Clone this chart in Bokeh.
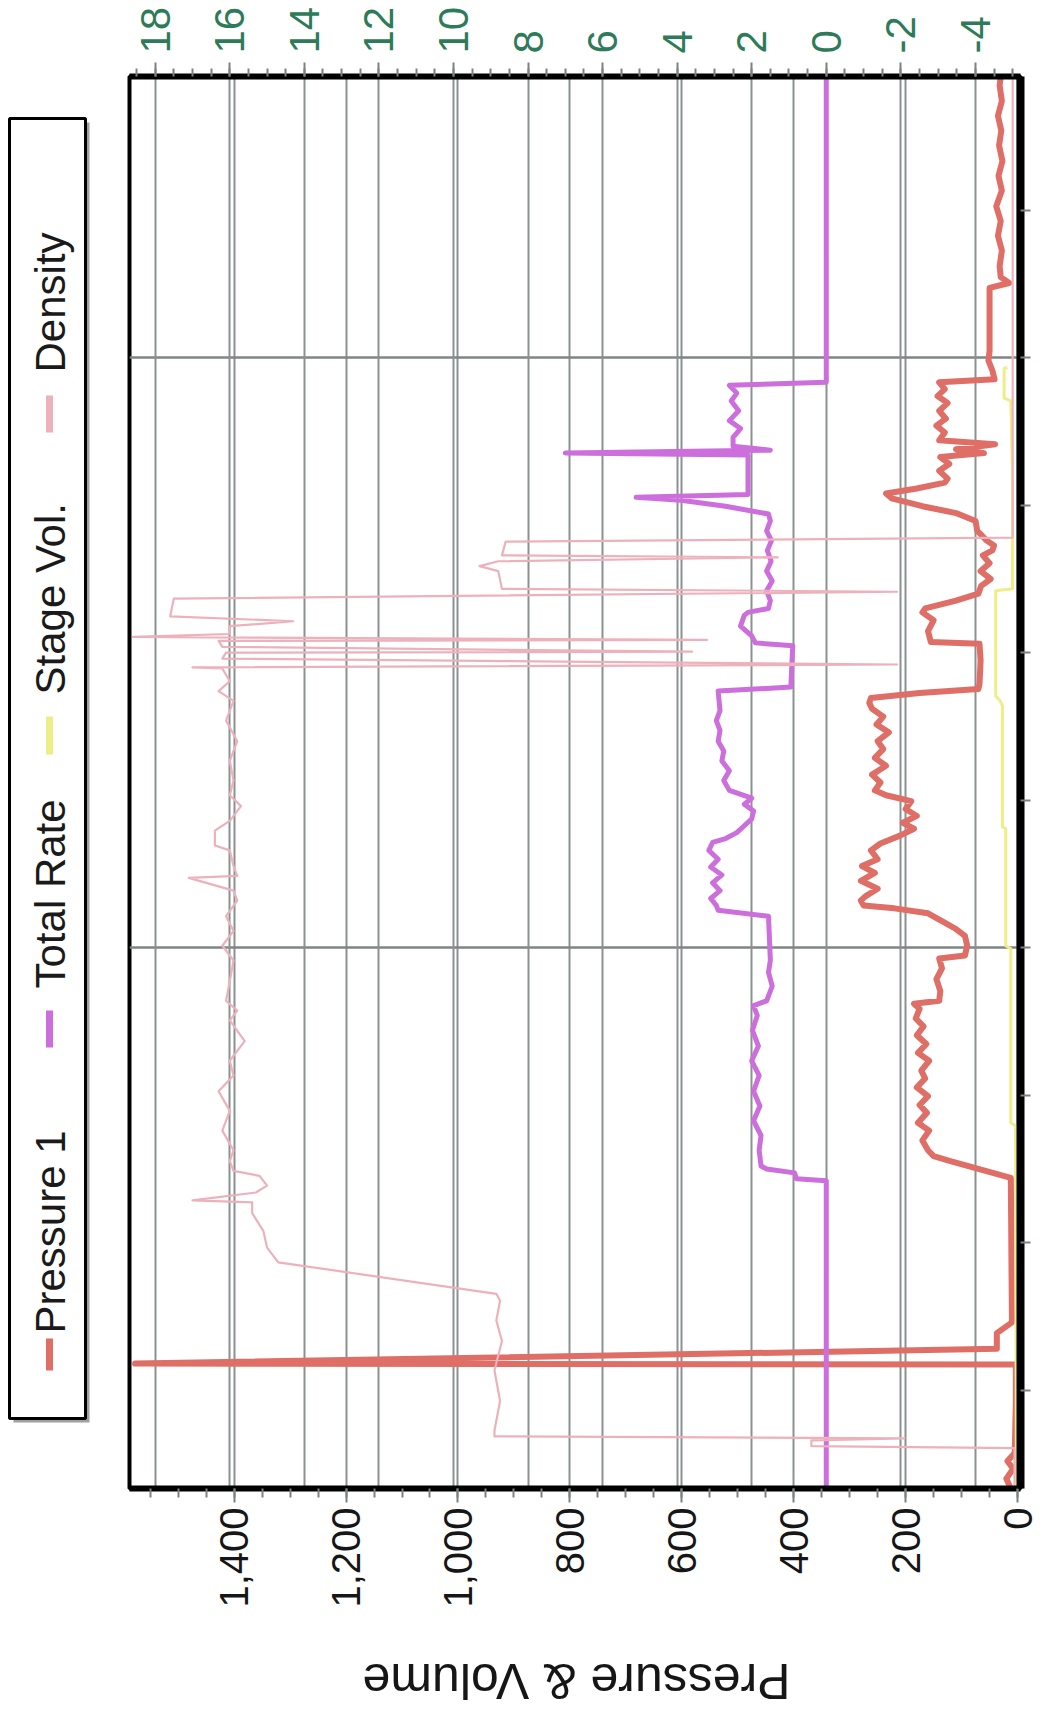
import math
from bokeh.plotting import figure
from bokeh.models import Range1d, LinearAxis, FixedTicker, Grid, NumeralTickFormatter
from bokeh.layouts import row, column
from bokeh.embed import file_html
from bokeh.resources import INLINE
from bokeh.core.properties import value

FONT = "Liberation Sans"

# ---------------- data (time in minutes) ----------------
press_t = [5.0, 6.0, 7.0, 7.8, 8.6, 13.9, 17.6, 17.7, 19.2, 20.8, 21.9, 36.6, 37.5, 38.3, 38.8, 39.4,
           40.4, 41.4, 42.2, 43.2, 44.0, 44.9, 45.8, 46.7, 47.5, 48.5, 49.3, 50.2, 51.1, 52.0, 52.8,
           53.8, 54.3, 54.6, 55.6, 56.8, 57.9, 58.9, 59.2, 60.2, 61.2, 61.9, 62.7, 63.5, 64.0, 64.3,
           64.8, 65.3, 66.0, 66.8, 67.6, 68.3, 69.0, 69.9, 70.6, 71.4, 72.1, 72.7, 73.4, 74.1, 74.9,
           75.5, 76.0, 76.8, 77.6, 78.5, 79.3, 80.2, 81.0, 81.9, 82.7, 83.5, 84.3, 84.9, 85.4, 85.9,
           86.3, 86.8, 89.2, 90.9, 91.1, 92.2, 93.3, 94.1, 94.5, 95.3, 96.0, 96.8, 97.5, 98.3, 99.1,
           99.9, 100.4, 100.9, 101.4, 102.4, 103.4, 104.2, 104.9, 105.7, 106.2, 106.7, 107.3, 107.7,
           108.5, 109.2, 109.9, 110.3, 110.7, 111.2, 111.6, 112.4, 113.1, 113.8, 114.6, 115.4, 116.1,
           116.8, 117.5, 117.8, 118.7, 119.7, 120.7, 125.8, 127.1, 127.6, 128.2, 129.3, 130.9, 132.4,
           133.9, 135.4, 137.0, 138.5, 140.0, 141.6, 143.1, 144.6, 146.1, 147.7, 148.6]
press_psi = [12, 20, 8, 18, 5, 3, 3, 1577, 37, 37, 10, 12, 70, 120, 150, 160,
             170, 158, 178, 162, 175, 160, 180, 165, 172, 158, 178, 163, 180, 168, 182,
             175, 185, 140, 138, 145, 135, 140, 94, 90, 94, 110, 135, 160, 220, 275,
             280, 270, 250, 280, 255, 278, 250, 262, 245, 210, 185, 205, 180, 200, 190,
             235, 255, 245, 260, 235, 255, 240, 250, 230, 252, 240, 260, 265, 262, 175,
             70, 68, 66, 68, 155, 160, 150, 170, 165, 110, 70, 65, 48, 66, 50,
             62, 45, 42, 55, 72, 75, 110, 170, 225, 235, 180, 130, 125,
             140, 122, 138, 60, 110, 40, 140, 130, 145, 128, 140, 125, 143,
             130, 140, 41, 45, 52, 50, 50, 50, 15, 30, 32, 28, 35,
             30, 38, 28, 34, 27, 33, 29, 35, 28, 32, 30]

rate_t = [5.0, 36.3, 36.5, 37.1, 37.5, 37.8, 39.4, 40.9, 42.4, 43.9, 45.4, 47.0, 48.5, 50.0, 51.6,
          53.1, 54.1, 54.6, 56.1, 57.5, 58.7, 63.2, 63.8, 64.3, 65.0, 65.8, 66.6, 67.4, 68.2, 69.0,
          69.9, 70.7, 71.1, 71.7, 72.4, 73.1, 73.9, 74.6, 75.2, 76.0, 77.0, 78.0, 79.0, 80.0, 81.0,
          82.1, 83.1, 84.1, 86.1, 86.5, 90.7, 91.0, 91.7, 92.7, 93.8, 94.1, 94.5, 95.3, 96.3, 97.3,
          98.3, 99.3, 100.4, 101.4, 102.4, 103.4, 104.1, 104.9, 105.5, 105.8, 106.1, 110.1, 110.3,
          110.6, 111.0, 111.9, 112.8, 113.6, 114.6, 115.6, 116.4, 117.2, 117.5, 148.6]
rate_bpm = [0, 0, 0.8, 0.85, 1.6, 1.75, 1.8, 1.75, 1.95, 1.78, 1.95, 1.8, 2.0, 1.82, 1.98,
            1.85, 1.95, 1.6, 1.45, 1.55, 1.5, 1.55, 2.9, 2.95, 3.1, 2.85, 3.05, 2.8, 3.1, 2.9,
            3.15, 3.05, 2.7, 2.4, 2.2, 2.0, 1.95, 2.2, 2.0, 2.6, 2.75, 2.6, 2.8, 2.75, 2.9,
            2.85, 2.95, 2.85, 2.9, 0.95, 0.9, 1.9, 2.0, 2.3, 2.2, 2.1, 1.55, 1.5, 1.6, 1.45,
            1.6, 1.48, 1.58, 1.47, 1.6, 1.5, 1.55, 2.7, 3.9, 5.1, 2.1, 2.1, 7.0,
            1.5, 2.5, 2.5, 2.3, 2.6, 2.35, 2.55, 2.4, 2.6, 0, 0]

vol_t = [5.0, 41.9, 42.2, 59.9, 60.2, 72.1, 72.3, 84.6, 85.1, 85.6, 96.3, 96.5, 107.5, 115.6,
         115.9, 118.9, 119.0]
vol_bbl = [2, 3.6, 12, 12, 21, 21, 27, 27, 31, 39, 39, 9, 9, 12, 24, 24, 18]

dens_t = [5.0, 9.1, 9.3, 9.9, 10.1, 10.3, 10.9, 13.9, 17.0, 20.0, 22.1, 24.1, 24.8, 28.0, 29.5,
          31.2, 33.0, 34.1, 34.3, 35.1, 35.8, 36.8, 37.3, 38.3, 39.4, 41.4, 43.4, 45.4, 47.0, 48.5,
          50.5, 52.6, 53.6, 54.6, 56.6, 58.7, 60.2, 61.7, 63.2, 64.8, 65.8, 67.1, 67.3, 68.3, 69.9,
          70.4, 71.9, 72.9, 74.4, 75.5, 77.0, 79.0, 81.0, 83.1, 85.1, 86.1, 87.1, 88.4, 88.5, 88.8,
          89.4, 90.0, 90.1, 90.6, 91.2, 91.3, 91.6, 91.9, 92.7, 93.2, 93.7, 95.5, 96.2, 96.5, 98.3,
          98.8, 99.3, 99.7, 99.9, 101.3, 101.7, 148.6]
dens_ppg = [-5.05, -5.05, 0.4, 0.4, -2.1, 8.9, 8.9, 8.75, 8.9, 8.7, 8.85, 8.75, 8.85, 14.7, 15.0,
            15.1, 15.4, 15.4, 17.0, 15.3, 15.0, 15.2, 15.9, 16.0, 15.9, 16.2, 16.0, 16.3, 15.9, 16.0,
            15.6, 16.0, 15.8, 16.1, 16.0, 15.9, 16.2, 15.9, 16.1, 15.8, 15.9, 17.1, 15.8, 15.9, 16.0,
            16.4, 16.4, 16.0, 15.7, 16.0, 15.9, 16.0, 15.8, 16.1, 15.9, 16.3, 16.0, 16.2, 17.0, -1.9,
            16.2, 16.1, 3.6, 16.2, 16.3, 3.2, 18.6, 16.0, 16.0, 14.3, 17.6, 17.5, -1.9, 8.7, 8.8,
            9.3, 8.8, 1.3, 8.7, 8.6, -5.0, -5.0]

series_names = ["Pressure 1", "Total Rate", "Stage Vol.", "Density"]
series_colors = ["#DE6E66", "#CC6EDC", "#EEEE88", "#EDB1BB"]
left_title = "Pressure & Volume"

left_ticks = [0, 200, 400, 600, 800, 1000, 1200, 1400]
left_minor = [50 * i for i in range(0, 32)]
right_ticks = [-4, -2, 0, 2, 4, 6, 8, 10, 12, 14, 16, 18]
right_minor = [0.5 * i for i in range(-10, 38)]
time_major = [60, 120]
time_minor = [15 * i for i in range(1, 10)]

# ---------------- layout numbers (page pixels) ----------------
LEG_W = 98
MAIN_W = 947
FRAME_TOP = 76
FRAME_BOT = 1488
MAIN_H = 1628
TITLE_H = 80
GRID_C = "#8b9191"
TICK_C = "#7c8282"

p = figure(width=MAIN_W, height=MAIN_H,
           x_range=Range1d(start=1587, end=-5.3),
           y_range=Range1d(start=5.0, end=148.6),
           output_backend="svg", toolbar_location=None,
           y_axis_location="right",
           min_border_left=129 - LEG_W, min_border_right=LEG_W + MAIN_W - 1020,
           min_border_top=FRAME_TOP, min_border_bottom=MAIN_H - FRAME_BOT,
           background_fill_color="white", border_fill_color="white")
p.extra_x_ranges = {"rate": Range1d(start=18.69, end=-5.21)}
p.outline_line_color = "black"
p.outline_line_width = 4

# bottom axis (Pressure & Volume)
bx = p.xaxis[0]
bx.ticker = FixedTicker(ticks=left_ticks, minor_ticks=left_minor)
bx.formatter = NumeralTickFormatter(format="0,0")
bx.major_label_orientation = math.pi / 2
bx.major_label_text_font = FONT
bx.major_label_text_font_size = "40px"
bx.major_label_text_color = "#161616"
bx.major_label_standoff = 5
bx.major_tick_out = 14
bx.major_tick_in = 0
bx.minor_tick_out = 9
bx.minor_tick_in = 0
bx.major_tick_line_color = TICK_C
bx.minor_tick_line_color = TICK_C
bx.major_tick_line_width = 2
bx.minor_tick_line_width = 2
bx.axis_line_color = "black"
bx.axis_line_width = 6

# right axis (time): only tick marks
ry = p.yaxis[0]
ry.ticker = FixedTicker(ticks=[], minor_ticks=time_minor)
ry.minor_tick_out = 10
ry.minor_tick_in = 0
ry.minor_tick_line_color = TICK_C
ry.minor_tick_line_width = 2
ry.major_tick_out = 0
ry.axis_line_color = "black"
ry.axis_line_width = 8

# top axis (rate / density)
tx = LinearAxis(x_range_name="rate", ticker=FixedTicker(ticks=right_ticks, minor_ticks=right_minor),
                formatter=NumeralTickFormatter(format="0"))
tx.major_label_orientation = math.pi / 2
tx.major_label_text_font = FONT
tx.major_label_text_font_size = "42px"
tx.major_label_text_color = "#2E7B5A"
tx.major_label_standoff = 9
tx.major_tick_out = 14
tx.major_tick_in = 0
tx.minor_tick_out = 8
tx.minor_tick_in = 0
tx.major_tick_line_color = TICK_C
tx.minor_tick_line_color = TICK_C
tx.major_tick_line_width = 2
tx.minor_tick_line_width = 2
tx.axis_line_color = "black"
tx.axis_line_width = 6
p.add_layout(tx, "above")

# grids
p.xgrid[0].ticker = FixedTicker(ticks=left_ticks)
p.xgrid[0].grid_line_color = GRID_C
p.xgrid[0].grid_line_width = 2
p.ygrid[0].ticker = FixedTicker(ticks=time_major)
p.ygrid[0].grid_line_color = "#7f8585"
p.ygrid[0].grid_line_width = 2.5
g2 = Grid(dimension=0, ticker=FixedTicker(ticks=right_ticks), x_range_name="rate",
          grid_line_color=GRID_C, grid_line_width=2)
p.add_layout(g2)

# series
p.line(x=press_psi, y=press_t, line_color=series_colors[0], line_width=6, line_join="round")
p.line(x=vol_bbl, y=vol_t, line_color=series_colors[2], line_width=3, line_join="round")
p.line(x=rate_bpm, y=rate_t, x_range_name="rate", line_color=series_colors[1], line_width=5,
       line_join="round")
p.line(x=dens_ppg, y=dens_t, x_range_name="rate", line_color=series_colors[3], line_width=2.2,
       line_join="round")

# ---------------- legend (rotated), in page pixel coordinates ----------------
leg = figure(width=LEG_W, height=MAIN_H, x_range=Range1d(0, LEG_W),
             y_range=Range1d(FRAME_BOT, FRAME_TOP),
             output_backend="svg", toolbar_location=None,
             x_axis_location=None, y_axis_location=None, min_border=0,
             background_fill_color="white", border_fill_color="white")
leg.outline_line_color = None
leg.grid.visible = False
leg.quad(left=[13], right=[89], top=[122], bottom=[1422], fill_color="#a0a0a0", line_color=None)
leg.quad(left=[9], right=[85], top=[118], bottom=[1418], fill_color="white",
         line_color="black", line_width=3)
leg.segment(x0=[49, 49, 49, 49], y0=[1370, 1047, 754, 432],
            x1=[49, 49, 49, 49], y1=[1338, 1010, 716, 395],
            line_color=series_colors, line_width=7)
leg.text(x=[50, 50, 50, 50], y=[1333, 988, 694, 372], text=series_names, angle=math.pi / 2,
         text_font=value(FONT), text_font_size="42px", text_color="#1a1a1a",
         text_align="left", text_baseline="alphabetic")

# ---------------- axis title (upside down), in page pixel coordinates ----------------
tfig = figure(width=LEG_W + MAIN_W, height=TITLE_H, x_range=Range1d(0, LEG_W + MAIN_W),
              y_range=Range1d(MAIN_H + TITLE_H, MAIN_H),
              output_backend="svg", toolbar_location=None,
              x_axis_location=None, y_axis_location=None, min_border=0,
              background_fill_color="white", border_fill_color="white")
tfig.outline_line_color = None
tfig.grid.visible = False
tfig.text(x=[576], y=[1680], text=[left_title], angle=math.pi,
          text_font=value(FONT), text_font_size="50px", text_color="#161616",
          text_align="center", text_baseline="middle")

layout = column(row(leg, p), tfig)
open("out.html", "w").write(file_html(layout, INLINE))
